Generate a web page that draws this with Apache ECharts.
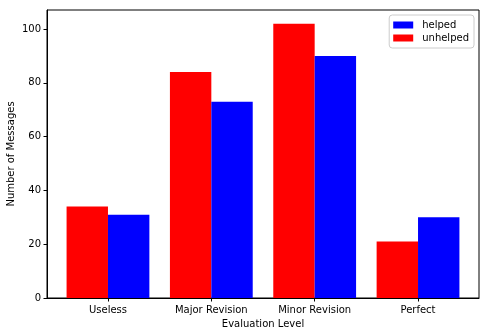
<!DOCTYPE html>
<html>
<head>
<meta charset="utf-8">
<script src="https://cdn.jsdelivr.net/npm/echarts@6/dist/echarts.min.js"></script>
<style>
  html, body { margin: 0; padding: 0; background: #fff; }
  #chart { width: 489px; height: 336px; }
</style>
</head>
<body>
<div id="chart"></div>
<script>
  var categories = ['Useless', 'Major Revision', 'Minor Revision', 'Perfect'];
  var unhelped = [34, 84, 102, 21];
  var helped = [31, 73, 90, 30];
  var yTicks = [0, 20, 40, 60, 80, 100];

  function pairs(vals) {
    return vals.map(function (v, i) { return [i, v]; });
  }

  var font = 'DejaVu Sans';
  var chart = echarts.init(document.getElementById('chart'));

  var option = {
    animation: false,
    textStyle: { fontFamily: font },
    grid: {
      left: 47, right: 10, top: 10, bottom: 38,
      show: true, borderColor: '#000', borderWidth: 1,
      containLabel: false,
      outerBoundsMode: 'none'
    },
    legend: {
      data: ['helped', 'unhelped'],
      orient: 'vertical',
      right: 15, top: 15,
      padding: [5, 5, 5, 4],
      itemGap: 3,
      itemWidth: 20, itemHeight: 7,
      icon: 'rect',
      borderColor: '#ccc', borderWidth: 1, borderRadius: 3,
      textStyle: { fontSize: 10, color: '#000', fontFamily: font, padding: [0, 0, 0, 4] }
    },
    xAxis: {
      type: 'value',
      min: -0.59, max: 3.59,
      name: 'Evaluation Level',
      nameLocation: 'middle',
      nameGap: 21,
      nameMoveOverlap: false,
      nameTextStyle: { fontSize: 10, color: '#000', fontFamily: font },
      axisLine: { show: true, onZero: false, lineStyle: { color: '#000' } },
      axisTick: { show: true, length: 3.5, customValues: [0, 1, 2, 3], lineStyle: { color: '#000' } },
      axisLabel: {
        customValues: [0, 1, 2, 3],
        formatter: function (v) { return categories[Math.round(v)]; },
        fontSize: 10, color: '#000', margin: 7, fontFamily: font
      },
      splitLine: { show: false }
    },
    yAxis: {
      type: 'value',
      min: 0, max: 107.1,
      interval: 20,
      name: 'Number of Messages',
      nameLocation: 'middle',
      nameGap: 31,
      nameMoveOverlap: false,
      nameTextStyle: { fontSize: 10, color: '#000', fontFamily: font },
      axisLine: { show: true, onZero: false, lineStyle: { color: '#000' } },
      axisTick: { show: true, length: 3.5, customValues: yTicks, lineStyle: { color: '#000' } },
      axisLabel: {
        customValues: yTicks,
        fontSize: 10, color: '#000', margin: 6, fontFamily: font
      },
      splitLine: { show: false }
    },
    series: [
      {
        name: 'unhelped', type: 'bar',
        data: pairs(unhelped),
        barWidth: 41.4, barGap: '0%',
        itemStyle: { color: '#ff0000' }
      },
      {
        name: 'helped', type: 'bar',
        data: pairs(helped),
        barWidth: 41.4, barGap: '0%',
        itemStyle: { color: '#0000ff' }
      }
    ]
  };

  chart.setOption(option);
</script>
</body>
</html>
